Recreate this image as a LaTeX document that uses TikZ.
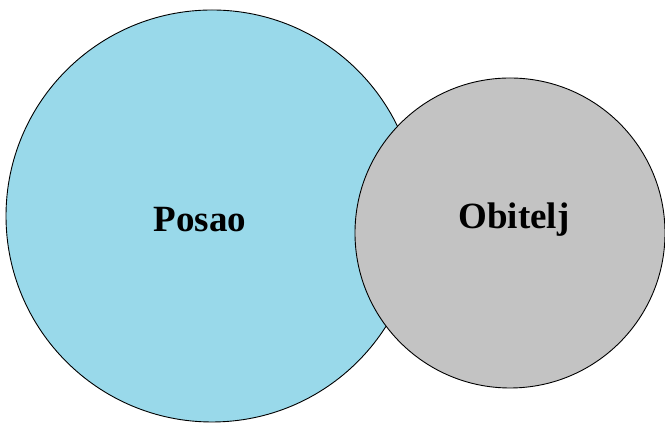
\documentclass[tikz,border=0pt]{standalone}
\usepackage{fontspec}
\setmainfont{Liberation Serif}
\usepackage{tikz}
\usetikzlibrary{positioning}

\definecolor{posaoblue}{RGB}{153,217,234}
\definecolor{obiteljgray}{RGB}{195,195,195}

\tikzset{
    sphere/.style={circle, draw=black, line width=0.9pt, inner sep=0pt},
    sphere label/.style={font=\fontsize{37}{40}\selectfont\bfseries}
}

\begin{document}
\begin{tikzpicture}[x=1pt, y=1pt]
    \useasboundingbox (0,0) rectangle (665,427);

    \node (posao) [sphere, fill=posaoblue, minimum size=412pt] at (212,211) {};
    \node (obitelj) [sphere, fill=obiteljgray, minimum size=310pt] at (510,194) {};

    \node (posaoText) [sphere label] at ([xshift=-12pt, yshift=-4pt]posao.center) {Posao};
    \node (obiteljText) [sphere label] at ([xshift=4pt, yshift=13pt]obitelj.center) {Obitelj};
\end{tikzpicture}
\end{document}
